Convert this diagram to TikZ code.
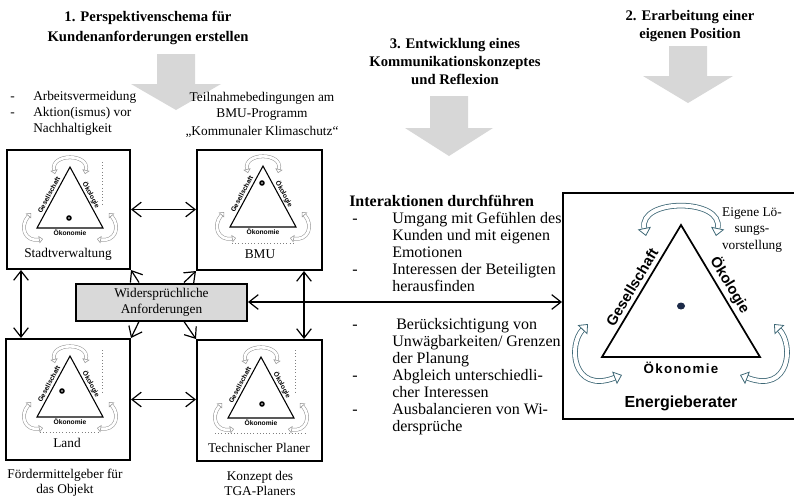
\documentclass[tikz,border=0pt]{standalone}
\usepackage{fontspec}
\setmainfont{Liberation Serif}
\newfontfamily\arialfont{Liberation Sans}
\usetikzlibrary{arrows.meta,calc}

\definecolor{blockgray}{RGB}{215,215,215}
\definecolor{notegray}{RGB}{217,217,217}
\definecolor{cyclegray}{RGB}{150,150,150}
\definecolor{cycleteal}{RGB}{62,104,118}
\definecolor{dotnavy}{RGB}{28,42,72}

\tikzset{
  frame/.style={draw, line width=1.5pt, inner sep=0pt},
  barb/.tip={Straight Barb[length=7pt,width=11pt]},
  link/.style={line width=0.9pt, barb-barb},
  oneway/.style={line width=0.9pt, -barb},
  blockarrow/.style={fill=blockgray, draw=none},
  plain/.style={inner sep=0pt},
  tinylbl/.style={font=\arialfont\bfseries\fontsize{5}{6}\selectfont, inner sep=0pt},
  biglbl/.style={font=\arialfont\bfseries\fontsize{11}{13}\selectfont, inner sep=0pt},
  minicyc/.style={draw=cyclegray, line width=0.4pt, double=white, double distance=2pt,
     {Triangle[open,length=3pt,width=5.5pt]}-{Triangle[open,length=3pt,width=5.5pt]}},
  bigcyc/.style={draw=cycleteal, line width=0.6pt, double=white, double distance=3pt,
     {Triangle[open,length=6pt,width=10pt]}-{Triangle[open,length=6pt,width=10pt]}},
  pics/minitri/.style={code={
     \draw[line width=0.8pt] (0,0) -- (-33,61) -- (33,61) -- cycle;
     \node[tinylbl, rotate=61.6] at (-21,28) {Gesellschaft};
     \node[tinylbl, rotate=-61.6] at (21,28) {Ökologie};
     \node[tinylbl] at (0,65.5) {Ökonomie};
     \fill (#1) circle (2.8);
     \fill[white] (#1) circle (0.9);
     \draw[minicyc] (-15,7) .. controls (-20,-14) and (20,-14) .. (15,7);
     \draw[minicyc] (-39,46) .. controls (-51,60) and (-45,75) .. (-27,72);
     \draw[minicyc] (39,46) .. controls (51,60) and (45,75) .. (27,72);
  }},
}

\begin{document}
\begin{tikzpicture}[x=0.75pt,y=-0.75pt]
\useasboundingbox (0,0) rectangle (794,497);

% ---- headings ----
\node[plain, anchor=base, font=\bfseries\fontsize{11}{15}\selectfont] (head1) at (148,21)
  {\begin{tabular}[t]{@{}c@{}}1. Perspektivenschema für\\Kundenanforderungen erstellen\end{tabular}};
\node[plain, anchor=base, font=\bfseries\fontsize{11}{13.5}\selectfont] (head3) at (455,48)
  {\begin{tabular}[t]{@{}c@{}}3. Entwicklung eines\\Kommunikationskonzeptes\\und Reflexion\end{tabular}};
\node[plain, anchor=base, font=\bfseries\fontsize{11}{13.5}\selectfont] (head2) at (690,20)
  {\begin{tabular}[t]{@{}c@{}}2. Erarbeitung einer\\eigenen Position\end{tabular}};

% ---- broad downward arrows ----
\path[blockarrow] (157,54) -- (195,54) -- (195,84) -- (221,84) -- (176,110) -- (131,84) -- (157,84) -- cycle;
\path[blockarrow] (430,96) -- (468,96) -- (468,128) -- (493,128) -- (449,156) -- (405,128) -- (430,128) -- cycle;
\path[blockarrow] (669,46) -- (707,46) -- (707,76) -- (733,76) -- (688,103) -- (643,76) -- (669,76) -- cycle;

% ---- notes above the boxes ----
\node[plain, anchor=base west, font=\fontsize{10}{12}\selectfont] (motives) at (10,100)
  {\begin{tabular}[t]{@{}p{17.25pt}@{}l@{}}-&Arbeitsvermeidung\\-&Aktion(ismus) vor\\&Nachhaltigkeit\end{tabular}};
\node[plain, anchor=base, font=\fontsize{10}{12}\selectfont] (program) at (262,101)
  {\begin{tabular}[t]{@{}c@{}}Teilnahmebedingungen am\\BMU-Programm\\[2pt]„Kommunaler Klimaschutz“\end{tabular}};

% ---- stakeholder boxes ----
\node[frame, minimum width=123*0.75pt, minimum height=119*0.75pt] (stadt) at (68.5,209.5) {};
\node[frame, minimum width=125*0.75pt, minimum height=120*0.75pt] (bmu) at (259.5,210) {};
\node[frame, minimum width=124*0.75pt, minimum height=121*0.75pt] (land) at (68,399.5) {};
\node[frame, minimum width=125*0.75pt, minimum height=121*0.75pt] (tga) at (259.5,400.5) {};

\pic at (70,167) {minitri={-1,51}};
\pic at (263,166) {minitri={-1,17}};
\pic at (70,356) {minitri={-8,35}};
\pic at (261,357) {minitri={1,47}};

\draw[dotted, gray] (102,162) -- (102,205);
\draw[dotted, gray] (232,243) -- (295,243);
\draw[dotted, gray] (102,350) -- (102,394);
\draw[dotted, gray] (40,432) -- (100,432);
\draw[dotted, gray] (295,350) -- (295,392);
\draw[dotted, gray] (215,433) -- (305,433);

\node[plain, anchor=base, font=\fontsize{10}{12}\selectfont] (stadtlbl) at (68,257) {Stadtverwaltung};
\node[plain, anchor=base, font=\fontsize{10}{12}\selectfont] (bmulbl) at (260,258) {BMU};
\node[plain, anchor=base, font=\fontsize{10}{12}\selectfont] (landlbl) at (67,447) {Land};
\node[plain, anchor=base, font=\fontsize{10}{12}\selectfont] (tgalbl) at (259,452) {Technischer Planer};

\node[plain, anchor=base, font=\fontsize{10}{11.5}\selectfont] (funder) at (65,478)
  {\begin{tabular}[t]{@{}c@{}}Fördermittelgeber für\\das Objekt\end{tabular}};
\node[plain, anchor=base, font=\fontsize{10}{11.5}\selectfont] (concept) at (260,480)
  {\begin{tabular}[t]{@{}c@{}}Konzept des\\TGA-Planers\end{tabular}};

% ---- conflicting requirements ----
\node[frame, fill=notegray, minimum width=171*0.75pt, minimum height=37*0.75pt, align=center,
      font=\fontsize{10}{12}\selectfont] (wid) at (161.5,302) {Widersprüchliche\\Anforderungen};

% ---- energy consultant ----
\node[frame, minimum width=257*0.75pt, minimum height=226*0.75pt] (ener) at (691.5,306) {};
\draw[line width=1.3pt] (681,225) -- (602,357) -- (760,357) -- cycle;
\node[biglbl, rotate=59.1] (soc) at (632,287) {Gesellschaft};
\node[biglbl, rotate=-59.1] (eco) at (730,285) {Ökologie};
\node[plain, font=\arialfont\bfseries\fontsize{10}{12}\selectfont\addfontfeature{LetterSpace=10}] (econ) at (681,368) {Ökonomie};
\fill[dotnavy] (681,306) ellipse (4 and 3.5);
\draw[bigcyc] (646,236) .. controls (638,198) and (724,198) .. (716,236);
\draw[bigcyc] (588,324) .. controls (568,345) and (572,394) .. (622,375);
\draw[bigcyc] (774,324) .. controls (794,345) and (790,394) .. (740,375);
\node[plain, font=\arialfont\bfseries\fontsize{12}{14}\selectfont] (enerlbl) at (681,403) {Energieberater};
\node[plain, anchor=base, font=\fontsize{10}{12.4}\selectfont] (ownsol) at (752,216)
  {\begin{tabular}[t]{@{}c@{}}Eigene Lö-\\sungs-\\vorstellung\end{tabular}};

% ---- interaction list ----
\node[plain, anchor=base west, font=\bfseries\fontsize{12}{14}\selectfont] (inthead) at (349,206) {Interaktionen durchführen};
\node[plain, anchor=base west, font=\fontsize{12}{12.75}\selectfont] (list1) at (352,223)
  {\begin{tabular}[t]{@{}p{30pt}@{}l@{}}
  -&Umgang mit Gefühlen des\\
   &Kunden und mit eigenen\\
   &Emotionen\\
  -&Interessen der Beteiligten\\
   &herausfinden
  \end{tabular}};
\node[plain, anchor=base west, font=\fontsize{12}{12.75}\selectfont] (list2) at (352,329)
  {\begin{tabular}[t]{@{}p{30pt}@{}l@{}}
  -&\hspace{3pt}Berücksichtigung von\\
   &Unwägbarkeiten/ Grenzen\\
   &der Planung\\
  -&Abgleich unterschiedli-\\
   &cher Interessen\\
  -&Ausbalancieren von Wi-\\
   &dersprüche
  \end{tabular}};

% ---- connectors ----
\draw[link] (stadt.east) -- (stadt.east -| bmu.west);
\draw[link] (land.east) -- (land.east -| tga.west);
\coordinate (stadtv) at ($(stadt.south west)+(15,0)$);
\draw[link] (stadtv) -- (stadtv |- land.north);
\coordinate (bmuv) at ($(bmu.south east)+(-19,0)$);
\draw[link] (bmuv) -- (bmuv |- tga.north);
\draw[oneway] ($(wid.north west)+(64,0)$) -- (stadt.south east);
\draw[oneway] ($(wid.north west)+(109,0)$) -- (bmu.south west);
\draw[oneway] ($(wid.south west)+(64,0)$) -- (land.north east);
\draw[oneway] ($(wid.south west)+(109,0)$) -- (tga.north west);
\draw[link] (wid.east) -- (wid.east -| ener.west);

\end{tikzpicture}
\end{document}
